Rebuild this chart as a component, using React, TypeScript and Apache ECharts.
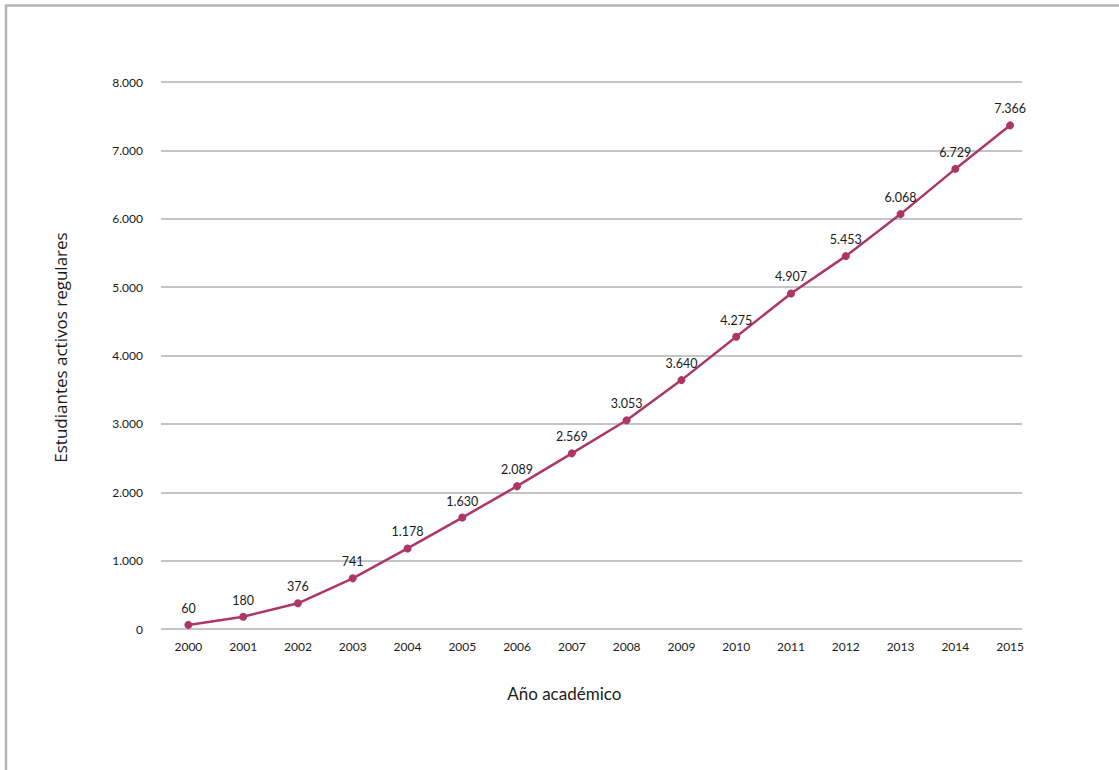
import React, { useEffect, useRef } from "react";
import * as echarts from "echarts";

const years = ["2000","2001","2002","2003","2004","2005","2006","2007","2008","2009","2010","2011","2012","2013","2014","2015"];
const students = [60, 180, 376, 741, 1178, 1630, 2089, 2569, 3053, 3640, 4275, 4907, 5453, 6068, 6729, 7366];
const yTicks = [0, 1000, 2000, 3000, 4000, 5000, 6000, 7000, 8000];
const xTitle = "Año académico";
const yTitle = "Estudiantes activos regulares";

const fmt = (v: number) => String(v).replace(/\B(?=(\d{3})+(?!\d))/g, ".");

export default function App() {
  const ref = useRef<HTMLDivElement>(null);
  useEffect(() => {
    const chart = echarts.init(ref.current!, null, { renderer: "svg" });
    const font = "Lato, 'Open Sans', sans-serif";
    chart.setOption({
      animation: false,
      backgroundColor: "#ffffff",
      textStyle: { fontFamily: font },
      grid: [
        { left: 161, right: 97, top: 82, bottom: 141 },
        { left: 161, right: 81.5, top: 82, bottom: 141 },
      ],
      xAxis: [
        { gridIndex: 0, type: "category", data: years, show: false },
        {
          gridIndex: 1,
          type: "category",
          data: years,
          boundaryGap: true,
          axisLine: { show: false },
          axisTick: { show: false },
          axisLabel: { color: "#1a1a1a", fontSize: 12, margin: 11, fontFamily: font },
          name: xTitle,
          nameLocation: "middle",
          nameGap: 56,
          nameTextStyle: { color: "#1a1a1a", fontSize: 17, fontFamily: font, padding: [0, 70, 0, 0] },
        },
      ],
      yAxis: [
        {
          gridIndex: 0,
          type: "value",
          min: yTicks[0],
          max: yTicks[yTicks.length - 1],
          interval: 1000,
          axisLine: { show: false },
          axisTick: { show: false },
          splitLine: { lineStyle: { color: "#c4c4c4", width: 2 } },
          axisLabel: { color: "#1a1a1a", fontSize: 12, margin: 18, formatter: (v: number) => fmt(v), fontFamily: font },
          name: yTitle,
          nameLocation: "middle",
          nameGap: 92,
          nameTextStyle: { color: "#1a1a1a", fontSize: 17, fontFamily: "'Open Sans', sans-serif", padding: [0, 0, 0, 16] },
        },
        {
          gridIndex: 1,
          type: "value",
          min: yTicks[0],
          max: yTicks[yTicks.length - 1],
          interval: 1000,
          show: false,
          splitLine: { show: false },
        },
      ],
      graphic: [
        { type: "line", shape: { x1: 5, y1: 5.5, x2: 1119, y2: 5.5 }, style: { stroke: "#b4b4b8", lineWidth: 2.5 } },
        { type: "line", shape: { x1: 6, y1: 5, x2: 6, y2: 770 }, style: { stroke: "#b4b4b8", lineWidth: 2.5 } },
      ],
      series: [
        {
          type: "line",
          xAxisIndex: 1,
          yAxisIndex: 1,
          data: students,
          symbol: "circle",
          symbolSize: 8,
          lineStyle: { color: "#ad3668", width: 2.5 },
          itemStyle: { color: "#ad3668" },
          label: {
            show: true,
            position: "top",
            distance: 6,
            color: "#1a1a1a",
            fontSize: 12.5,
            fontFamily: font,
            formatter: (p: any) => fmt(p.value),
          },
        },
      ],
    });
    return () => chart.dispose();
  }, []);
  return <div ref={ref} style={{ position: "absolute", left: 0, top: 0, width: 1119, height: 770 }} />;
}
